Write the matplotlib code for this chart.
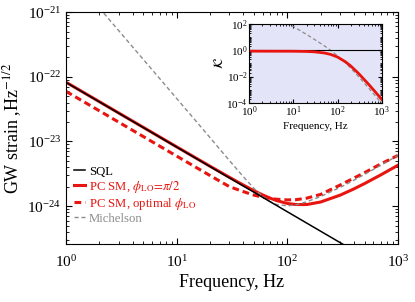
import numpy as np
import matplotlib
matplotlib.use('Agg')
import matplotlib.pyplot as plt
from matplotlib.ticker import LogLocator, NullFormatter

plt.rcParams['font.family'] = ['Liberation Serif', 'DejaVu Serif']
plt.rcParams['mathtext.fontset'] = 'stix'

# main plot data
f_sql = [1, 10, 100, 1000]
h_sql = [8.2e-23, 8.2e-24, 8.2e-25, 8.2e-26]

f_pc = [1, 10, 20, 30, 40, 50, 60, 70, 80, 100, 120, 150, 200, 300, 400, 500, 700, 1000]
h_pc = [8.25e-23, 8.26e-24, 4.15e-24, 2.79e-24, 2.12e-24, 1.73e-24, 1.49e-24, 1.33e-24,
        1.22e-24, 1.10e-24, 1.06e-24, 1.06e-24, 1.16e-24, 1.48e-24, 1.85e-24, 2.24e-24,
        3.05e-24, 4.29e-24]

f_opt = [1, 2, 5, 10, 20, 30, 40, 50, 60, 70, 80, 100, 120, 150, 200, 300, 400, 500, 700, 1000]
h_opt = [5.95e-23, 2.98e-23, 1.19e-23, 5.95e-24, 2.98e-24, 2.0e-24, 1.68e-24, 1.48e-24,
         1.38e-24, 1.32e-24, 1.28e-24, 1.25e-24, 1.26e-24, 1.33e-24, 1.52e-24, 2.12e-24,
         2.72e-24, 3.3e-24, 4.5e-24, 6.1e-24]

f_mich = [2, 3, 5, 7, 10, 15, 20, 30, 40, 50, 60, 70, 80, 100, 120, 150, 200, 300, 400, 500, 700, 1000]
h_mich = [1.16e-21, 5.15e-22, 1.85e-22, 9.45e-23, 4.62e-23, 2.05e-23, 1.15e-23, 5.06e-24,
          2.86e-24, 1.88e-24, 1.41e-24, 1.17e-24, 1.06e-24, 1.01e-24, 1.05e-24, 1.17e-24,
          1.41e-24, 1.95e-24, 2.52e-24, 3.11e-24, 4.29e-24, 6.08e-24]

# inset: K
f_k = [1, 10, 20, 30, 50, 70, 100, 150, 200, 300, 500, 700, 1000]
k_pc = [0.85, 0.839, 0.806, 0.756, 0.623, 0.481, 0.304, 0.135, 0.0625, 0.0171, 2.68e-3,
        7.39e-4, 1.83e-4]
f_km = [7, 10, 15, 20, 30, 50, 70, 100, 150, 200, 300, 500, 700, 1000]
k_mich = [130.0, 63.6, 28.0, 15.6, 6.69, 2.18, 0.975, 0.378, 0.111, 0.0424, 9.81e-3,
          1.39e-3, 3.73e-4, 9.09e-5]

red = '#e8140f'
gray = '#8c8c8c'

fig = plt.figure(figsize=(4.15, 3.02), dpi=100)
ax = fig.add_axes([0.159, 0.192, 0.800, 0.768])

ax.loglog(f_pc, h_pc, color=red, lw=2.2, label=r'PC SM, $\phi_{\rm LO}\!=\!\pi/2$')
ax.loglog(f_opt, h_opt, color=red, lw=2.2, ls=(0, (2.2, 1.3)), label=r'PC SM, optimal $\phi_{\rm LO}$')
ax.loglog(f_mich, h_mich, color=gray, lw=1.0, ls=(0, (3, 2)), label='Michelson')
ax.loglog(f_sql, h_sql, color='black', lw=1.1, label='SQL')

ax.set_xlim(1, 1000)
ax.set_ylim(2.6e-25, 1e-21)
ax.set_xlabel('Frequency, Hz', fontsize=13, labelpad=3)
ax.set_ylabel(r'GW strain ,Hz$^{-1/2}$', fontsize=13, labelpad=2)
ax.tick_params(which='both', direction='in', top=True, right=True, labelsize=11)
ax.tick_params(which='major', length=4)
ax.tick_params(which='minor', length=2)
ax.tick_params(axis='x', pad=7)
ax.yaxis.set_minor_locator(LogLocator(base=10, subs=np.arange(2, 10), numticks=20))
ax.yaxis.set_minor_formatter(NullFormatter())

handles, labels = ax.get_legend_handles_labels()
order = [3, 0, 1, 2]
leg = ax.legend([handles[i] for i in order], [labels[i] for i in order],
                loc='lower left', bbox_to_anchor=(0.0, 0.05), frameon=False,
                fontsize=9.2, handlelength=0.9, handletextpad=0.3, labelspacing=0.08,
                borderaxespad=0.2)
for txt, c in zip(leg.get_texts(), ['black', red, red, gray]):
    txt.set_color(c)

# inset
ins = fig.add_axes([0.600, 0.659, 0.320, 0.262])
ins.set_facecolor('#e4e4f8')
ins.loglog(f_km, k_mich, color=gray, lw=0.9, ls=(0, (3, 2)))
ins.axhline(1, color='black', lw=0.8)
ins.loglog(f_k, k_pc, color=red, lw=2.0)
ins.set_xlim(1, 1000)
ins.set_ylim(1e-4, 1e2)
ins.set_xlabel('Frequency, Hz', fontsize=8, labelpad=2)
ins.set_ylabel(r'$\mathcal{K}$', fontsize=9, labelpad=0)
ins.tick_params(which='both', direction='in', top=True, right=True, labelsize=8, pad=1)
ins.tick_params(which='major', length=3)
ins.tick_params(which='minor', length=1.5)
ins.yaxis.set_major_locator(LogLocator(base=100, numticks=10))
ins.yaxis.set_minor_locator(LogLocator(base=10, subs=np.arange(1, 10), numticks=20))
ins.yaxis.set_minor_formatter(NullFormatter())

fig.savefig('out.png', dpi=100)
